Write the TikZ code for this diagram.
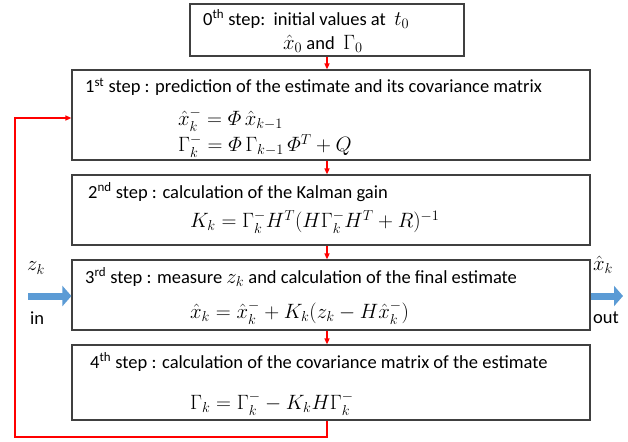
\documentclass[tikz,border=0pt]{standalone}
\usepackage{amsmath}
\usepackage{fontspec}
\setmainfont{Carlito}
\usetikzlibrary{arrows.meta}
\definecolor{boxgray}{HTML}{404040}
\definecolor{arrowblue}{HTML}{5B9BD5}
\begin{document}
\begin{tikzpicture}[x=1pt,y=-1pt,
  box/.style={draw=boxgray, line width=1.2pt, minimum width=518pt, inner sep=0pt},
  txt/.style={anchor=west, inner sep=0pt, font=\fontsize{18.5}{22}\selectfont},
  eqn/.style={anchor=west, inner sep=0pt, font=\fontsize{20}{24}\selectfont},
  lbl/.style={inner sep=0pt, font=\fontsize{18.5}{22}\selectfont},
  mlbl/.style={inner sep=0pt, font=\fontsize{21}{24}\selectfont},
  feed/.style={draw=red, line width=1.4pt, -{Triangle[length=6pt,width=5pt]}},
  bluearrow/.style={draw=arrowblue, line width=7pt, -{Triangle[length=9pt,width=20pt]}}]
\useasboundingbox (0,0) rectangle (628,441);
% boxes
\node[box, minimum width=274pt, minimum height=52pt] (b0) at (327,30) {};
\node[box, minimum height=90pt] (b1) at (331,115) {};
\node[box, minimum height=70pt] (b2) at (331,210) {};
\node[box, minimum height=70pt] (b3) at (331,295) {};
\node[box, minimum height=75pt] (b4) at (331,382.5) {};
% texts
\node[txt] (t0a) at (203,19) {0\textsuperscript{th} step:\ \ initial values at\ \ {\fontsize{20}{24}\selectfont$t_0$}};
\node[txt] (t0b) at (283,44) {{\fontsize{20}{24}\selectfont$\hat{x}_0$} and\ \ {\fontsize{20}{24}\selectfont$\Gamma_0$}};
\node[txt] (t1) at (85,87) {1\textsuperscript{st} step : prediction of the estimate and its covariance matrix};
\node[eqn] (e1a) at (178,120) {$\hat{x}_k^- = \varPhi\,\hat{x}_{k-1}$};
\node[eqn] (e1b) at (178,146) {$\Gamma_k^- = \varPhi\,\Gamma_{k-1}\,\varPhi^T + Q$};
\node[txt] (t2) at (88,192) {2\textsuperscript{nd} step : calculation of the Kalman gain};
\node[eqn] (e2) at (190,222) {$K_k = \Gamma_k^- H^T(H\Gamma_k^- H^T + R)^{-1}$};
\node[txt] (t3) at (85,277) {3\textsuperscript{rd} step : measure {\fontsize{20}{24}\selectfont$z_k$} and calculation of the final estimate};
\node[eqn] (e3) at (190,313) {$\hat{x}_k = \hat{x}_k^- + K_k(z_k - H\hat{x}_k^-)$};
\node[txt] (t4) at (90,362) {4\textsuperscript{th} step : calculation of the covariance matrix of the estimate};
\node[eqn] (e4) at (190,404) {$\Gamma_k = \Gamma_k^- - K_k H\Gamma_k^-$};
% red flow arrows
\draw[feed] (b0.south) -- (b0.south |- b1.north);
\draw[feed] (b0.south |- b1.south) -- (b0.south |- b2.north);
\draw[feed] (b0.south |- b2.south) -- (b0.south |- b3.north);
\draw[feed] (b0.south |- b3.south) -- (b0.south |- b4.north);
\coordinate (lb) at (15,437);
\coordinate (lt) at (15,118);
\draw[feed] (b0.south |- b4.south) |- (lb) -- (lt) -- (lt -| b1.west);
% in / out
\coordinate (inA) at (28,296);
\coordinate (outB) at (623,296);
\draw[bluearrow] (inA) -- (inA -| b3.west);
\draw[bluearrow] (outB -| b3.east) -- (outB);
\node[mlbl] (zk) at (36,268) {$z_k$};
\node[lbl] (in) at (37,318) {in};
\node[mlbl] (xk) at (603,265) {$\hat{x}_k$};
\node[lbl] (out) at (606,318) {out};
\end{tikzpicture}
\end{document}
